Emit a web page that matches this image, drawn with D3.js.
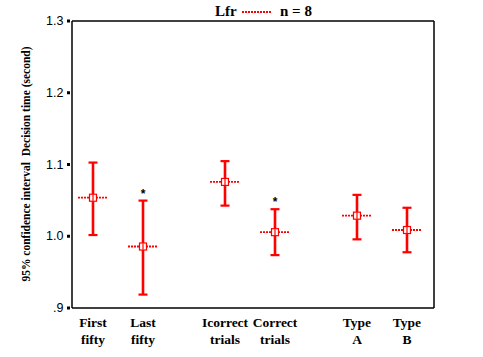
<!DOCTYPE html>
<html><head><meta charset="utf-8">
<script src="https://cdn.jsdelivr.net/npm/d3@7"></script>
<style>body{margin:0;background:#fff}svg{display:block}</style>
</head><body>
<script>
const groups = ["Order", "Accuracy", "Type"];
const categories = [
  ["First", "fifty"], ["Last", "fifty"],
  ["Icorrect", "trials"], ["Correct", "trials"],
  ["Type", "A"], ["Type", "B"]
];
const groupOf = [0, 0, 1, 1, 2, 2];
const sideOf = [0, 1, 0, 1, 0, 1];
const means = [1.053, 0.985, 1.075, 1.005, 1.028, 1.008];
const upper = [1.102, 1.049, 1.104, 1.037, 1.057, 1.039];
const lower = [1.001, 0.918, 1.042, 0.973, 0.995, 0.977];
const significant = [false, true, false, true, false, false];
const yTicks = [0.9, 1.0, 1.1, 1.2, 1.3];
const yTickLabels = [".9", "1.0", "1.1", "1.2", "1.3"];
const titleText = "Lfr", legendText = "n = 8";
const yTitle = "95% confidence interval\u00a0\u00a0Decision time (second)";

const W = 483, H = 357;
const L = 71.5, R = 433.5, T = 20.5, B = 307.5;
const svg = d3.select("body").append("svg").attr("width", W).attr("height", H);

const y = d3.scaleLinear().domain([0.9, 1.3]).range([B, T]);
const xFrame = d3.scaleLinear().domain([0, 1]).range([L, R]);
const gx = d3.scalePoint().domain(groups).range([117, 381]);
const ix = d3.scalePoint().domain([0, 1]).range([-24, 26]);
const xOf = i => gx(groups[groupOf[i]]) + ix(sideOf[i]);
const red = "#ff0000";

// frame via axis domains
function styleDomain(sel) {
  sel.selectAll(".tick").remove();
  sel.select(".domain").attr("stroke", "#000").attr("stroke-width", 1.5);
}
svg.append("g").attr("transform", `translate(0,${T})`).call(d3.axisTop(xFrame).tickSizeOuter(0)).call(styleDomain);
svg.append("g").attr("transform", `translate(0,${B})`).call(d3.axisBottom(xFrame).tickSizeOuter(0)).call(styleDomain);
svg.append("g").attr("transform", `translate(${R},0)`).call(d3.axisRight(y).tickSizeOuter(0)).call(styleDomain);

// y axis
const yAxis = d3.axisLeft(y).tickValues(yTicks).tickFormat((d, i) => yTickLabels[i])
  .tickSize(0).tickSizeOuter(0).tickPadding(8);
const ya = svg.append("g").attr("transform", `translate(${L},0)`).call(yAxis);
ya.select(".domain").attr("stroke", "#000").attr("stroke-width", 1.5);
ya.selectAll("text").attr("font-family", "Liberation Sans, Arial, sans-serif")
  .attr("font-size", 12.5).attr("fill", "#000");
ya.selectAll(".tick").append("rect").attr("x", -4.5).attr("y", -1.5).attr("width", 3).attr("height", 3).attr("fill", "#000");

// y title
svg.append("text").attr("transform", `translate(26,${(T + B) / 2}) rotate(-90)`)
  .attr("text-anchor", "middle").attr("dy", "0.35em")
  .attr("font-family", "Liberation Serif, Times New Roman, serif").attr("font-weight", "bold")
  .attr("font-size", 11.5).text(yTitle);

// category labels
categories.forEach((lines, i) => {
  const t = svg.append("text").attr("text-anchor", "middle")
    .attr("font-family", "Liberation Serif, Times New Roman, serif").attr("font-weight", "bold")
    .attr("font-size", 13.5);
  t.append("tspan").attr("x", xOf(i)).attr("y", 327).text(lines[0]);
  t.append("tspan").attr("x", xOf(i)).attr("y", 344).text(lines[1]);
});

// error bars
const g = svg.append("g");
means.forEach((m, i) => {
  const cx = xOf(i);
  g.append("line").attr("x1", cx).attr("x2", cx).attr("y1", y(upper[i])).attr("y2", y(lower[i]))
    .attr("stroke", red).attr("stroke-width", 2.6);
  [upper[i], lower[i]].forEach(v => {
    g.append("line").attr("x1", cx - 4.5).attr("x2", cx + 4.5).attr("y1", y(v)).attr("y2", y(v))
      .attr("stroke", red).attr("stroke-width", 2.2);
  });
  g.append("line").attr("x1", cx - 15).attr("x2", cx + 15).attr("y1", y(m)).attr("y2", y(m))
    .attr("stroke", red).attr("stroke-width", 1.8).attr("stroke-dasharray", "2,1");
  g.append("rect").attr("x", cx - 3.5).attr("y", y(m) - 3.5).attr("width", 7).attr("height", 7)
    .attr("fill", "#fff").attr("stroke", red).attr("stroke-width", 1.2);
  g.append("line").attr("x1", cx).attr("x2", cx).attr("y1", y(m) - 3).attr("y2", y(m) + 3)
    .attr("stroke", red).attr("stroke-width", 1.2);
  if (significant[i]) {
    svg.append("text").attr("x", cx).attr("y", y(upper[i]) - 3).attr("text-anchor", "middle")
      .attr("font-family", "Liberation Sans, Arial, sans-serif").attr("font-weight", "bold")
      .attr("font-size", 12).text("*");
  }
});

// title + legend
const tf = "Liberation Serif, Times New Roman, serif";
svg.append("text").attr("x", 215).attr("y", 16).attr("font-family", tf).attr("font-weight", "bold")
  .attr("font-size", 15).text(titleText);
svg.append("line").attr("x1", 242).attr("x2", 272).attr("y1", 12).attr("y2", 12)
  .attr("stroke", red).attr("stroke-width", 1.8).attr("stroke-dasharray", "2,1");
svg.append("text").attr("x", 280).attr("y", 16).attr("font-family", tf).attr("font-weight", "bold")
  .attr("font-size", 15).text(legendText);
</script>
</body></html>
